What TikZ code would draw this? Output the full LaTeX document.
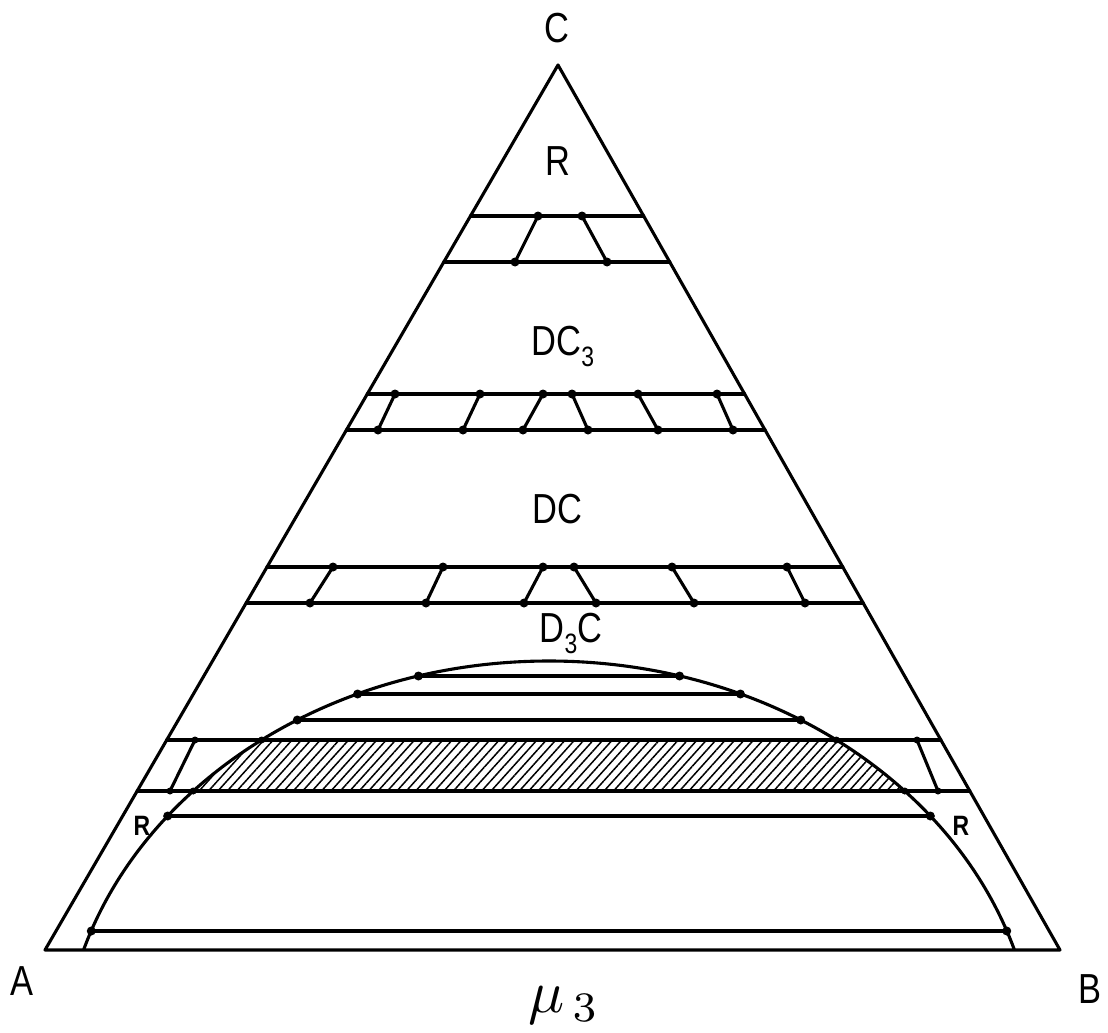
\documentclass[tikz,border=0pt]{standalone}
\usepackage{fontspec}
\newfontfamily\letfont[FakeStretch=0.82]{Liberation Sans}
\usetikzlibrary{patterns.meta}
\newcommand\lsub[1]{\raisebox{-0.28em}{\fontsize{28}{28}\selectfont #1}}
\def\mytie(#1)(#2){\draw (#1) -- (#2); \fill (#1) circle[radius=4.5pt]; \fill (#2) circle[radius=4.5pt];}
\begin{document}
\begin{tikzpicture}[x=1pt,y=-1pt, line width=3.1pt, line cap=round, line join=round,
  lab/.style={font=\letfont\fontsize{42}{42}\selectfont, inner sep=0pt, anchor=base},
  slab/.style={font=\letfont\bfseries\fontsize{28}{28}\selectfont, inner sep=0pt, anchor=base},
  declare function={lx(\q)=45+(950-\q)/885*513; rx(\q)=1060-(950-\q)/885*502; hw(\q)=487*sqrt(max(0,1-((1071-\q)/410)^2));}]
\useasboundingbox (0,0) rectangle (1108,1033);
% hatched region
\begin{scope}
  \clip (0,740) rectangle (1108,791);
  \fill[pattern={Lines[angle=48,distance=7pt,line width=1.5pt]}] (549,1071) ellipse [x radius=487, y radius=410];
\end{scope}
% triangle
\coordinate (A) at (45,950);
\coordinate (B) at (1060,950);
\coordinate (C) at (558,65);
\draw (A) -- (B) -- (C) -- cycle;
% dome
\begin{scope}
  \clip (0,0) rectangle (1108,950);
  \draw (549,1071) ellipse [x radius=487, y radius=410];
\end{scope}
% band lines
\foreach \yy in {216,262,394,430,567,603,740,791}
  \draw ({lx(\yy)},\yy) -- ({rx(\yy)},\yy);
% ties
\mytie(538,216)(515,262)
\mytie(582,216)(607,262)
\mytie(395,394)(378,430)
\mytie(480,394)(463,430)
\mytie(543,394)(523,430)
\mytie(572,394)(588,430)
\mytie(638,394)(658,430)
\mytie(717,394)(733,430)
\mytie(333,567)(310,603)
\mytie(443,567)(426,603)
\mytie(543,567)(524,603)
\mytie(574,567)(596,603)
\mytie(672,567)(694,603)
\mytie(787,567)(805,603)
\draw (195,740) -- (170,791);
\draw (917,740) -- (938,791);
\foreach \p in {(195,740),(170,791),(917,740),(938,791)} \fill \p circle[radius=3.5pt];
% chords in dome
\foreach \yy in {676,694,720,816,931} {
  \draw ({549-hw(\yy)},\yy) -- ({549+hw(\yy)},\yy);
  \fill ({549-hw(\yy)},\yy) circle[radius=4.5pt];
  \fill ({549+hw(\yy)},\yy) circle[radius=4.5pt];
}
\foreach \yy in {740,791} {
  \fill ({549-hw(\yy)},\yy) circle[radius=3.5pt];
  \fill ({549+hw(\yy)},\yy) circle[radius=3.5pt];
}
% labels
\node[lab] (lC) at (557,43) {C};
\node[lab] (lR) at (558,175) {R};
\node[lab] (lDC3) at (563,355) {DC\lsub{3}};
\node[lab] (lDC) at (557,523) {DC};
\node[lab] (lD3C) at (571,642) {D\lsub{3}C};
\node[lab] (lA) at (22,995) {A};
\node[lab] (lB) at (1090,1003) {B};
\node[slab] (lRl) at (142,835) {R};
\node[slab] (lRr) at (961,835) {R};
\node[inner sep=0pt, anchor=base] (mu) at (564,1012) {\scalebox{6}{$\mu_{\,3}$}};
\end{tikzpicture}
\end{document}
